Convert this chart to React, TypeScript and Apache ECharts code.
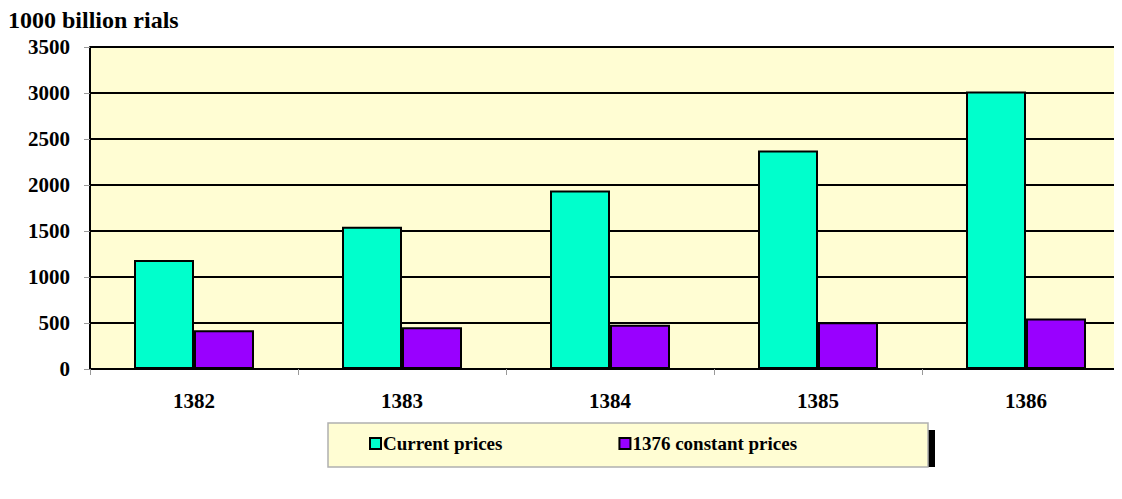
import React, { useEffect, useRef } from "react";
import * as echarts from "echarts";

const categories = ["1382", "1383", "1384", "1385", "1386"];
const currentPrices = [1185, 1545, 1940, 2375, 3017];
const constantPrices = [420, 455, 480, 508, 550];
const seriesNames = ["Current prices", "1376 constant prices"];
const yTicks = { min: 0, max: 3500, interval: 500 };
const unitLabel = "1000 billion rials";

const FONT = "Liberation Serif";

export default function App() {
  const ref = useRef<HTMLDivElement>(null);
  useEffect(() => {
    if (!ref.current) return;
    const chart = echarts.init(ref.current, null, { renderer: "svg" });
    chart.setOption({
      animation: false,
      backgroundColor: "#ffffff",
      title: {
        text: unitLabel,
        left: -5,
        top: -5,
        textStyle: { fontFamily: FONT, fontWeight: "bold", fontSize: 24, color: "#000" },
      },
      graphic: [
        { type: "rect", shape: { x: 920, y: 422, width: 7, height: 37 }, style: { fill: "#000" }, z: 1 },
        { type: "rect", shape: { x: 320, y: 415, width: 600, height: 44 }, style: { fill: "#FFFDD3", stroke: "#b0b0b0", lineWidth: 1.5 }, z: 2 },
      ],
      legend: {
        left: 361,
        top: 426,
        padding: 0,
        itemGap: 116,
        itemWidth: 11,
        itemHeight: 11,
        z: 10,
        textStyle: { fontFamily: FONT, fontWeight: "bold", fontSize: 19, color: "#000", padding: [0, 0, 0, -3] },
        data: seriesNames.map((n) => ({ name: n, icon: "rect" })),
      },
      grid: { left: 82, right: 8, top: 39, bottom: 122, containLabel: false },
      xAxis: {
        type: "category",
        data: categories,
        boundaryGap: true,
        axisLine: { lineStyle: { color: "#000", width: 1.5 } },
        axisTick: { show: true, length: 6, lineStyle: { color: "#999" } },
        axisLabel: { fontFamily: FONT, fontWeight: "bold", fontSize: 21, color: "#000", margin: 21 },
      },
      yAxis: {
        type: "value",
        min: yTicks.min,
        max: yTicks.max,
        interval: yTicks.interval,
        axisLine: { show: true, lineStyle: { color: "#000", width: 2 } },
        axisTick: { show: true, length: 6, lineStyle: { color: "#999" } },
        axisLabel: {
          fontFamily: FONT,
          fontWeight: "bold",
          fontSize: 21,
          color: "#000",
          margin: 20,
          formatter: (v: number) => String(v),
        },
        splitLine: { show: true, lineStyle: { color: "#000", width: 2 } },
        splitArea: { show: true, areaStyle: { color: ["#FFFDD3", "#FFFDD3"] } },
      },
      series: [
        {
          name: seriesNames[0],
          type: "bar",
          data: currentPrices,
          barWidth: 60,
          barGap: "0%",
          itemStyle: { color: "#00FFCC", borderColor: "#000", borderWidth: 2 },
        },
        {
          name: seriesNames[1],
          type: "bar",
          data: constantPrices,
          barWidth: 60,
          barGap: "0%",
          itemStyle: { color: "#9900FF", borderColor: "#000", borderWidth: 2 },
        },
      ],
    });
    return () => chart.dispose();
  }, []);
  return (
    <div style={{ width: 1114, height: 483, overflow: "hidden" }}>
      <div ref={ref} style={{ width: 1130, height: 483 }} />
    </div>
  );
}
